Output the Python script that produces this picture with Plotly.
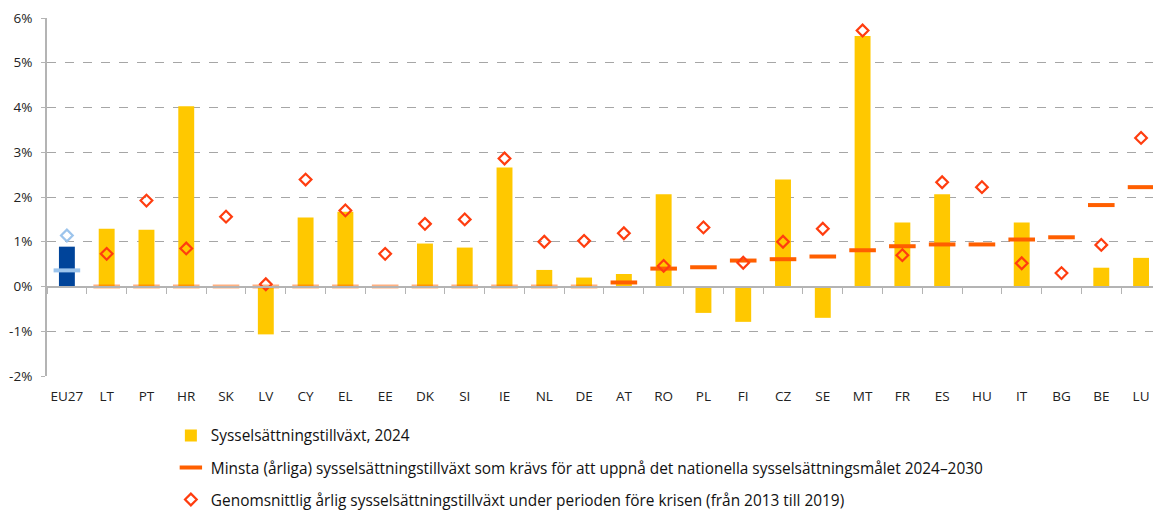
import plotly.graph_objects as go

categories = ["EU27", "LT", "PT", "HR", "SK", "LV", "CY", "EL", "EE", "DK", "SI", "IE", "NL", "DE",
              "AT", "RO", "PL", "FI", "CZ", "SE", "MT", "FR", "ES", "HU", "IT", "BG", "BE", "LU"]
growth_2024 = [0.89, 1.29, 1.27, 4.03, 0.0, -1.07, 1.54, 1.67, 0.0, 0.96, 0.87, 2.66, 0.37, 0.20,
               0.28, 2.06, -0.59, -0.79, 2.39, -0.70, 5.60, 1.43, 2.06, 0.0, 1.43, 0.0, 0.42, 0.64]
min_required = [0.36, 0.0, 0.0, 0.0, 0.0, 0.0, 0.0, 0.0, 0.0, 0.0, 0.0, 0.0, 0.0, 0.0,
                0.09, 0.40, 0.43, 0.58, 0.61, 0.67, 0.81, 0.90, 0.94, 0.94, 1.05, 1.10, 1.82, 2.22]
pre_crisis_avg = [1.14, 0.73, 1.92, 0.85, 1.56, 0.05, 2.39, 1.70, 0.73, 1.40, 1.50, 2.86, 1.00, 1.02,
                  1.19, 0.46, 1.32, 0.53, 1.00, 1.29, 5.72, 0.70, 2.33, 2.22, 0.52, 0.30, 0.93, 3.32]
y_ticks = [-2, -1, 0, 1, 2, 3, 4, 5, 6]
y_ticktext = ["-2%", "-1%", "0%", "1%", "2%", "3%", "4%", "5%", "6%"]

names = [
    "Sysselsättningstillväxt, 2024",
    "Minsta (årliga) sysselsättningstillväxt som krävs för att uppnå det nationella sysselsättningsmålet 2024\u20132030",
    "Genomsnittlig årlig sysselsättningstillväxt under perioden före krisen (från 2013 till 2019)",
]

YELLOW = "#FFC800"
ORANGE = "#FF5F00"
RED = "#FF3D0F"
BLUE = "#00449A"
LIGHTBLUE = "#9CC4EC"
FONT = "Open Sans, Lato, sans-serif"
XRANGE = [-0.5, 27.3]

fig = go.Figure()

# EU27 (highlighted in blue)
fig.add_trace(go.Bar(x=categories[:1], y=growth_2024[:1], width=0.40, marker_color=BLUE,
                     marker_line_width=0, showlegend=False))
# Member states
fig.add_trace(go.Bar(x=categories[1:], y=growth_2024[1:], width=0.40, marker_color=YELLOW,
                     marker_line_width=0, name=names[0], legendgroup="a", legendrank=1))

# required minimum growth (dash markers)
zero_mask = [v == 0 for v in min_required[1:]]
fig.add_trace(go.Scatter(x=categories[:1], y=min_required[:1], mode="markers", showlegend=False,
                         marker=dict(symbol="line-ew-open", size=19, color=LIGHTBLUE, line=dict(width=4))))
fig.add_trace(go.Scatter(
    x=[c for c, z in zip(categories[1:], zero_mask) if z],
    y=[v for v, z in zip(min_required[1:], zero_mask) if z],
    mode="markers", showlegend=False,
    marker=dict(symbol="line-ew-open", size=19, color="rgba(255,95,0,0.5)", line=dict(width=4))))
fig.add_trace(go.Scatter(
    x=[c for c, z in zip(categories[1:], zero_mask) if not z],
    y=[v for v, z in zip(min_required[1:], zero_mask) if not z],
    mode="markers", name=names[1], legendgroup="b", legendrank=2,
    marker=dict(symbol="line-ew-open", size=19, color=ORANGE, line=dict(width=4))))

# pre-crisis average (open diamonds)
fig.add_trace(go.Scatter(x=categories[:1], y=pre_crisis_avg[:1], mode="markers", showlegend=False,
                         marker=dict(symbol="diamond-open", size=9, color=LIGHTBLUE, line=dict(width=2.2))))
fig.add_trace(go.Scatter(x=categories[1:], y=pre_crisis_avg[1:], mode="markers", name=names[2],
                         legendgroup="c", legendrank=3,
                         marker=dict(symbol="diamond-open", size=9, color=RED, line=dict(width=2.2))))

# helper trace for the axis drawn through zero
fig.add_trace(go.Scatter(x=categories, y=[None] * len(categories), xaxis="x2", mode="markers",
                         showlegend=False, hoverinfo="skip"))

fig.update_layout(
    width=1153, height=530,
    margin=dict(l=47, r=0, t=18, b=154),
    plot_bgcolor="white", paper_bgcolor="white",
    barmode="overlay",
    font=dict(family=FONT, size=13, color="#222222"),
    xaxis=dict(type="category", categoryorder="array", categoryarray=categories,
               range=XRANGE, showgrid=False, zeroline=False, showline=False, automargin=False,
               ticks="", tickfont=dict(size=13.5, color="#222222"), ticklabelstandoff=10),
    xaxis2=dict(type="category", categoryorder="array", categoryarray=categories,
                range=XRANGE, overlaying="x", anchor="free", position=0.25, side="bottom",
                showline=True, linecolor="#B4B4B4", linewidth=2, ticks="outside", tickson="boundaries",
                ticklen=6, tickcolor="#B4B4B4", tickwidth=1, showticklabels=False, showgrid=False,
                zeroline=False, automargin=False),
    yaxis=dict(range=[-2, 6], tickvals=y_ticks, ticktext=y_ticktext, showgrid=True,
               gridcolor="#A6A6A6", griddash="dash", gridwidth=1, zeroline=False, automargin=False,
               showline=True, linecolor="#B4B4B4", linewidth=2, ticks="outside", ticklen=4,
               tickcolor="#B4B4B4", tickfont=dict(size=13.5, color="#222222"), ticklabelstandoff=6),
    legend=dict(x=0.112, y=-0.12, xanchor="left", yanchor="top", orientation="v",
                traceorder="grouped", tracegroupgap=9, font=dict(size=15.4, color="#111111"),
                bgcolor="rgba(0,0,0,0)"),
)

fig.write_html("out.html", config={"displayModeBar": False},
               post_script="document.body.style.margin='0';document.body.style.overflow='hidden';")
